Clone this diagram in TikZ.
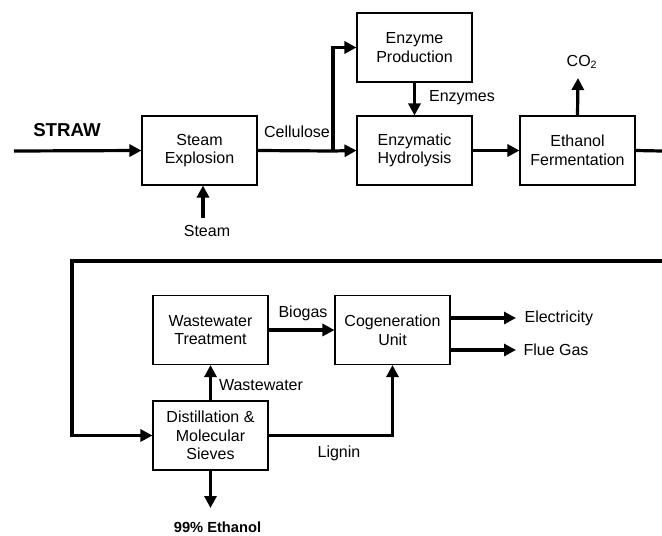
\documentclass[tikz,border=0pt]{standalone}
\usepackage{fontspec}
\setmainfont{Liberation Sans}
\usetikzlibrary{arrows.meta}

\begin{document}
\begin{tikzpicture}[x=0.75pt,y=-0.75pt,
  box/.style={draw,line width=0.8pt,minimum width=86.25pt,minimum height=51.75pt,
    align=center,font=\fontsize{12}{14}\selectfont,inner sep=1pt},
  flow/.style={line width=2.4pt,-{Triangle[length=9pt,width=9pt]}},
  pipe/.style={line width=2.4pt},
  lbl/.style={font=\fontsize{12}{14}\selectfont,inner sep=1pt}]
  \useasboundingbox (0,0) rectangle (662,536);

  % Obere Reihe: Vorbehandlung, Hydrolyse, Fermentation.
  \node[box] (steam) at (199.5,150.5) {Steam\\Explosion};
  \node[box] (enzprod) at (414.5,47.5) {Enzyme\\Production};
  \node[box] (hydro) at (414.5,150.5) {Enzymatic\\Hydrolysis};
  \node[box] (ferm) at (577.5,150.5) {Ethanol\\Fermentation};

  \coordinate (strawin) at (14,151);
  \coordinate (steamin) at (203,218);
  \coordinate (split) at (333,151);
  \coordinate (co2out) at (578,78);
  \coordinate (redge1) at (662,151);
  \coordinate (redge2) at (662,261);
  \coordinate (loopleft) at (72,261);

  \draw[flow] (strawin) -- (steam.west);
  \draw[flow] (steamin) -- (steamin |- steam.south);
  \draw[pipe] (steam.east) -- (split);
  \draw[flow] (split) |- (enzprod.west);
  \draw[flow] (split) -- (hydro.west);
  \draw[flow] (enzprod.south) -- (hydro.north);
  \draw[flow] (hydro.east) -- (ferm.west);
  \draw[flow] (ferm.north) -- (co2out);
  \draw[pipe] (ferm.east) -- (redge1);

  \node[lbl,font=\fontsize{14}{16}\selectfont\bfseries] (lstraw) at (67,130) {STRAW};
  \node[lbl] (lsteam) at (207,231) {Steam};
  \node[lbl] (lcell) at (297,132) {Cellulose};
  \node[lbl] (lenz) at (462,98) {Enzymes};
  \node[lbl] (lco2) at (582,62) {CO\textsubscript{2}};

  % Untere Reihe: Destillation, Abwasser, Kraft-Waerme-Kopplung.
  \node[box] (wwt) at (210.5,330) {Wastewater\\Treatment};
  \node[box] (distil) at (210.5,435.5) {Distillation \&\\Molecular\\Sieves};
  \node[box] (cogen) at (392.5,330) {Cogeneration\\Unit};

  \coordinate (elec) at (516,318);
  \coordinate (flue) at (516,350);
  \coordinate (ethout) at (210.5,508);

  \draw[flow] (redge2) -- (loopleft) |- (distil.west);
  \draw[flow] (distil.north) -- (wwt.south);
  \draw[flow] (wwt.east) -- (cogen.west);
  \draw[flow] (distil.east) -| (cogen.south);
  \draw[flow] (elec -| cogen.east) -- (elec);
  \draw[flow] (flue -| cogen.east) -- (flue);
  \draw[flow] (distil.south) -- (ethout);

  \node[lbl] (lww) at (261,385) {Wastewater};
  \node[lbl] (lbio) at (303,313) {Biogas};
  \node[lbl] (llig) at (339,453) {Lignin};
  \node[lbl,anchor=west] (lelec) at (523,318) {Electricity};
  \node[lbl,anchor=west] (lflue) at (522,350) {Flue Gas};
  \node[lbl,font=\fontsize{11}{13}\selectfont\bfseries] (leth) at (217.5,527) {99\% Ethanol};
\end{tikzpicture}
\end{document}
